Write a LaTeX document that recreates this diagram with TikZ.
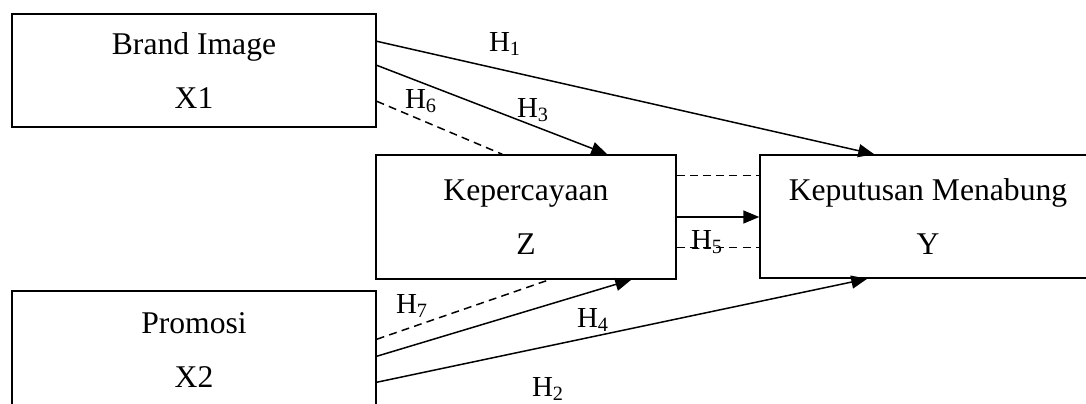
\documentclass[tikz,border=0pt]{standalone}
\usepackage{fontspec}
\setmainfont{Liberation Serif}
\usetikzlibrary{positioning, arrows.meta, calc}

\begin{document}
\begin{tikzpicture}[x=0.02cm, y=-0.02cm,
    var/.style={draw, line width=0.85pt, rectangle, inner sep=0pt, align=center, font=\fontsize{18}{31}\selectfont},
    hyp/.style={inner sep=1pt, font=\fontsize{16.5}{18}\selectfont},
    link/.style={line width=0.85pt},
    effect/.style={link, -{Triangle[length=0.32cm, width=0.26cm]}},
    med/.style={link, dash pattern=on 4.5pt off 3pt},
]
\clip (0,0) rectangle (1086,403);

\node[var, minimum width=7.28cm, minimum height=2.26cm] (x1) at (194,70.5) {Brand Image\\X1};
\node[var, minimum width=7.28cm, minimum height=2.36cm] (x2) at (194,350) {Promosi\\X2};
\node[var, minimum width=6cm, minimum height=2.48cm] (z) at (526,217) {Kepercayaan\\Z};
\node[var, minimum width=6.72cm, minimum height=2.46cm] (y) at (928,216.5) {Keputusan Menabung\\Y};

% direct effects
\draw[effect] ($(x1.north east)+(0,28)$) -- ($(y.north west)+(115,0)$);
\draw[effect] ($(x1.north east)+(0,52)$) -- ($(z.north west)+(232,0)$);
\draw[effect] ($(x2.north east)+(0,66)$) -- ($(z.south west)+(256,0)$);
\draw[effect] ($(x2.north east)+(0,92)$) -- ($(y.south west)+(108,0)$);
\draw[effect] (z.east) -- (z.east -| y.west);

% mediation
\draw[med] ($(x1.north east)+(0,88)$) -- ($(z.north west)+(127,0)$);
\draw[med] ($(x2.north east)+(0,49)$) -- ($(z.south west)+(174,0)$);
\coordinate (zt) at ($(z.north east)+(0,21)$);
\coordinate (zb) at ($(z.north east)+(0,93)$);
\draw[med] (zt) -- (zt -| y.west);
\draw[med] (zb) -- (zb -| y.west);

\node[hyp] (h1) at (505,44) {H\textsubscript{1}};
\node[hyp] (h2) at (548,389) {H\textsubscript{2}};
\node[hyp] (h3) at (533,110) {H\textsubscript{3}};
\node[hyp] (h4) at (593,320) {H\textsubscript{4}};
\node[hyp] (h5) at (707,242) {H\textsubscript{5}};
\node[hyp] (h6) at (421,101) {H\textsubscript{6}};
\node[hyp] (h7) at (412,306) {H\textsubscript{7}};
\end{tikzpicture}
\end{document}
